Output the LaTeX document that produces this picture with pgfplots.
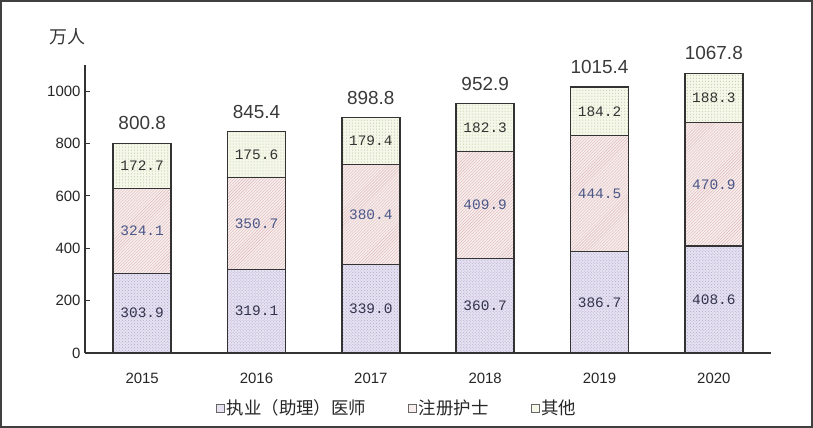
\documentclass[border=0pt]{standalone}
\usepackage{pgfplots}
\pgfplotsset{compat=1.18}
\usepackage{pgfplotstable}
\usetikzlibrary{patterns}
\usepackage{fontspec}
\setmainfont{Liberation Sans}
\newfontfamily\cjk{Noto Sans CJK SC}
\newfontfamily\monof{Liberation Mono}

\definecolor{axcol}{HTML}{333333}
\definecolor{bfill}{HTML}{E6E2F2}
\definecolor{bpat}{HTML}{B0A8CC}
\definecolor{mfill}{HTML}{F8EEEE}
\definecolor{mpat}{HTML}{DDB8B8}
\definecolor{tfill}{HTML}{F5F8E8}
\definecolor{tpat}{HTML}{B4BC9C}
\definecolor{lowtxt}{HTML}{33334D}
\definecolor{midtxt}{HTML}{4A5788}
\definecolor{toptxt}{HTML}{333333}
\definecolor{tottxt}{HTML}{3A3A3A}

\pgfplotstableread{
x a b c
0 303.9 324.1 172.7
1 319.1 350.7 175.6
2 339.0 380.4 179.4
3 360.7 409.9 182.3
4 386.7 444.5 184.2
5 408.6 470.9 188.3
}\data

\pgfplotstableread{
x y l
0 151.95 303.9
1 159.55 319.1
2 169.50 339.0
3 180.35 360.7
4 193.35 386.7
5 204.30 408.6
}\lowlab

\pgfplotstableread{
x y l
0 465.95 324.1
1 494.45 350.7
2 529.20 380.4
3 565.65 409.9
4 608.95 444.5
5 644.05 470.9
}\midlab

\pgfplotstableread{
x y l
0 714.35 172.7
1 757.60 175.6
2 809.10 179.4
3 861.75 182.3
4 923.30 184.2
5 973.65 188.3
}\toplab

\pgfplotstableread{
x y l
0 800.8 800.8
1 845.4 845.4
2 898.8 898.8
3 952.9 952.9
4 1015.4 1015.4
5 1067.8 1067.8
}\totlab

\pgfplotsset{
  common/.style={
    at={(85bp,75bp)}, anchor=south west,
    scale only axis, width=686bp, height=288bp,
    xmin=-0.5, xmax=5.5, ymin=0, ymax=1100,
  },
}

\begin{document}
\begin{tikzpicture}
\useasboundingbox (0,0) rectangle (813bp,428bp);
\begin{axis}[common,
  ybar stacked, bar width=58bp,
  axis lines*=left,
  axis line style={axcol, line width=1.3bp},
  tick align=inside, tick pos=left,
  every tick/.style={axcol, line width=1.1bp},
  major tick length=5bp,
  xtick={0,...,5},
  xticklabels={2015,2016,2017,2018,2019,2020},
  x tick style={draw=none},
  extra x ticks={-0.5,0.5,1.5,2.5,3.5,4.5,5.5},
  extra x tick labels={},
  extra x tick style={tick style={draw=axcol, line width=1.1bp}, major tick length=5bp},
  ytick={0,200,...,1000},
  /pgf/number format/1000 sep={},
  /pgf/number format/assume math mode=true,
  ticklabel style={font=\fontsize{15}{17}\selectfont, text=black!85},
  xticklabel style={yshift=-17bp},
  yticklabel style={xshift=-1bp},
  legend columns=3,
  legend style={draw=none, fill=none, at={(0.455,-0.191)}, anchor=center,
    font=\cjk\fontsize{17.5}{20}\selectfont, text=black!85,
    /tikz/every even column/.append style={column sep=40bp}},
]
\addplot[forget plot, preaction={fill=bfill}, draw=axcol, line width=1.4bp,
  pattern=crosshatch dots, pattern color=bpat]
  table[x=x,y=a]{\data};
\addplot[forget plot, preaction={fill=mfill}, draw=axcol, line width=1.4bp,
  pattern=north east lines, pattern color=mpat]
  table[x=x,y=b]{\data};
\addplot[forget plot, preaction={fill=tfill}, draw=axcol, line width=1.4bp,
  pattern=dots, pattern color=tpat]
  table[x=x,y=c]{\data};
\addlegendimage{legend image code/.code={\draw[fill=bfill, draw=black!60, line width=0.8bp] (0bp,-4bp) rectangle (8bp,4bp);}}
\addlegendentry{执业（助理）医师}
\addlegendimage{legend image code/.code={\draw[fill=mfill, draw=black!60, line width=0.8bp] (0bp,-4bp) rectangle (8bp,4bp);}}
\addlegendentry{注册护士}
\addlegendimage{legend image code/.code={\draw[fill=tfill, draw=black!60, line width=0.8bp] (0bp,-4bp) rectangle (8bp,4bp);}}
\addlegendentry{其他}
\end{axis}

\begin{axis}[common, axis lines=none, clip=false,
  point meta=explicit symbolic, nodes near coords]
\addplot[draw=none, mark=none,
  every node near coord/.style={anchor=center, font=\monof\fontsize{14.5}{16}\selectfont, text=lowtxt}]
  table[x=x,y=y,meta=l]{\lowlab};
\addplot[draw=none, mark=none,
  every node near coord/.style={anchor=center, font=\monof\fontsize{14.5}{16}\selectfont, text=midtxt}]
  table[x=x,y=y,meta=l]{\midlab};
\addplot[draw=none, mark=none,
  every node near coord/.style={anchor=center, font=\monof\fontsize{14.5}{16}\selectfont, text=toptxt}]
  table[x=x,y=y,meta=l]{\toplab};
\addplot[draw=none, mark=none,
  every node near coord/.style={anchor=center, yshift=20bp, font=\fontsize{19}{21}\selectfont, text=tottxt}]
  table[x=x,y=y,meta=l]{\totlab};
\end{axis}

\node[font=\cjk\fontsize{18}{20}\selectfont, text=black!80] at (67bp,391bp) {万人};
\draw[line width=2bp, black!75] (1bp,1bp) rectangle (812bp,427bp);
\end{tikzpicture}
\end{document}
